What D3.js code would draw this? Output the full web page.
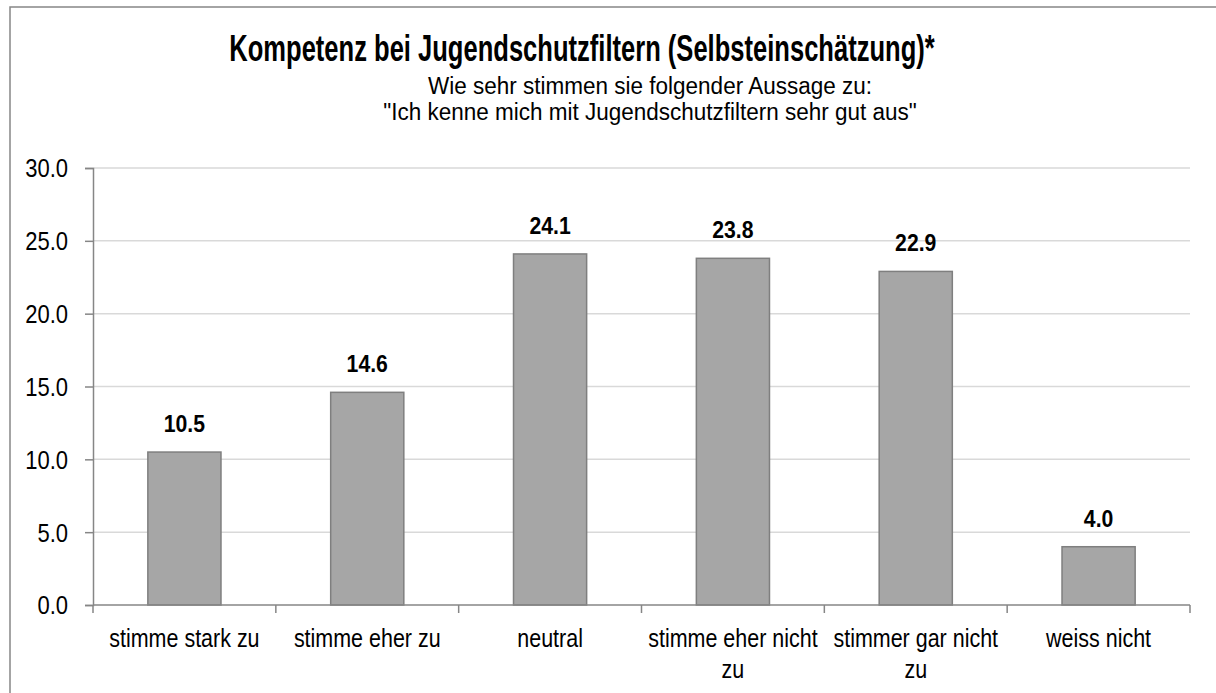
<!DOCTYPE html>
<html>
<head>
<meta charset="utf-8">
<script src="https://cdn.jsdelivr.net/npm/d3@7"></script>
<style>
  html, body { margin: 0; padding: 0; background: #fff; }
  svg { display: block; font-family: "Liberation Sans", Arial, sans-serif; }
</style>
</head>
<body>
<svg id="chart" width="1216" height="693"></svg>
<script>
// Survey answers and their shares (%)
const categories = [
  "stimme stark zu",
  "stimme eher zu",
  "neutral",
  "stimme eher nicht zu",
  "stimmer gar nicht zu",
  "weiss nicht"
];
const values = [10.5, 14.6, 24.1, 23.8, 22.9, 4.0];
const yTicks = [0, 5, 10, 15, 20, 25, 30];

const titleText = "Kompetenz bei Jugendschutzfiltern (Selbsteinschätzung)*";
const subtitleLines = [
  "Wie sehr stimmen sie folgender Aussage zu:",
  "\"Ich kenne mich mit Jugendschutzfiltern sehr gut aus\""
];

(function () {
  const svg = d3.select("#chart");

  // narrow type: glyphs are squeezed horizontally around their anchor point
  function narrowText(parent, px, py, str, size, sx, bold) {
    return parent.append("text")
      .attr("transform", `translate(${px},${py}) scale(${sx},1)`)
      .attr("text-anchor", "middle")
      .attr("font-size", size)
      .attr("font-weight", bold ? "bold" : "normal")
      .attr("fill", "#000")
      .text(str);
  }

  // outer frame of the chart area
  svg.append("rect")
    .attr("x", 10).attr("y", 7)
    .attr("width", 1220).attr("height", 700)
    .attr("fill", "#fff")
    .attr("stroke", "#878787")
    .attr("stroke-width", 1.5);

  // headings
  narrowText(svg, 582, 61, titleText, 36.5, 0.70, true);
  subtitleLines.forEach((ln, i) => narrowText(svg, 650, 94 + i * 26, ln, 24.2, 0.93, false));

  // plot area
  const plotLeft = 93, plotRight = 1190, plotTop = 168, plotBottom = 605;

  const x = d3.scaleBand()
    .domain(categories)
    .range([plotLeft, plotRight])
    .paddingInner(0.6)
    .paddingOuter(0.3);

  const xOuter = d3.scaleBand()
    .domain(categories)
    .range([plotLeft, plotRight]);

  const y = d3.scaleLinear()
    .domain([0, 30])
    .range([plotBottom, plotTop]);

  // horizontal gridlines
  svg.append("g")
    .selectAll("line")
    .data(yTicks.filter(t => t > 0))
    .join("line")
    .attr("x1", plotLeft).attr("x2", plotRight)
    .attr("y1", d => y(d)).attr("y2", d => y(d))
    .attr("stroke", "#d9d9d9")
    .attr("stroke-width", 1.5);

  // y axis
  const ySx = 0.86;
  const yAxis = svg.append("g")
    .attr("transform", `translate(${plotLeft},0)`)
    .call(d3.axisLeft(y).tickValues(yTicks).tickFormat(d3.format(".1f")).tickSize(8).tickPadding(25));
  yAxis.select(".domain").attr("stroke", "#868686").attr("stroke-width", 1.5);
  yAxis.selectAll(".tick line").attr("stroke", "#868686").attr("stroke-width", 1.5);
  yAxis.selectAll(".tick text")
    .attr("font-size", 25.6)
    .attr("font-family", "Liberation Sans, Arial, sans-serif")
    .attr("fill", "#000")
    .attr("x", -25 / ySx)
    .attr("dy", "0.35em")
    .attr("transform", `scale(${ySx},1)`);

  // bars
  svg.append("g")
    .selectAll("rect")
    .data(values)
    .join("rect")
    .attr("x", (d, i) => x(categories[i]))
    .attr("width", x.bandwidth())
    .attr("y", d => y(d))
    .attr("height", d => y(0) - y(d))
    .attr("fill", "#a6a6a6")
    .attr("stroke", "#7f7f7f")
    .attr("stroke-width", 1.5);

  // value labels
  const valueLayer = svg.append("g");
  values.forEach((v, i) => {
    narrowText(valueLayer, x(categories[i]) + x.bandwidth() / 2, y(v) - 20,
      d3.format(".1f")(v), 23.3, 0.91, true);
  });

  // x axis: baseline and boundary ticks
  const xAxis = svg.append("g");
  xAxis.append("line")
    .attr("x1", plotLeft).attr("x2", plotRight)
    .attr("y1", plotBottom).attr("y2", plotBottom)
    .attr("stroke", "#868686").attr("stroke-width", 1.5);
  const boundaries = categories.map(c => xOuter(c)).concat([plotRight]);
  xAxis.selectAll("line.tk")
    .data(boundaries)
    .join("line")
    .attr("class", "tk")
    .attr("x1", d => d).attr("x2", d => d)
    .attr("y1", plotBottom).attr("y2", plotBottom + 8)
    .attr("stroke", "#868686").attr("stroke-width", 1.5);

  // category labels, wrapped to the category width
  const labelSize = 26.2, labelSx = 0.82;
  categories.forEach(cat => {
    const cx = xOuter(cat) + xOuter.bandwidth() / 2;
    const words = cat.split(" ");
    const lines = [];
    let line = [];
    const probe = xAxis.append("text").attr("font-size", labelSize);
    words.forEach(w => {
      probe.text(line.concat([w]).join(" "));
      if (probe.node().getComputedTextLength() * labelSx > xOuter.bandwidth() - 2 && line.length) {
        lines.push(line.join(" "));
        line = [w];
      } else {
        line.push(w);
      }
    });
    lines.push(line.join(" "));
    probe.remove();
    lines.forEach((ln, i) => narrowText(xAxis, cx, 647 + i * 31, ln, labelSize, labelSx, false));
  });
})();
</script>
</body>
</html>
